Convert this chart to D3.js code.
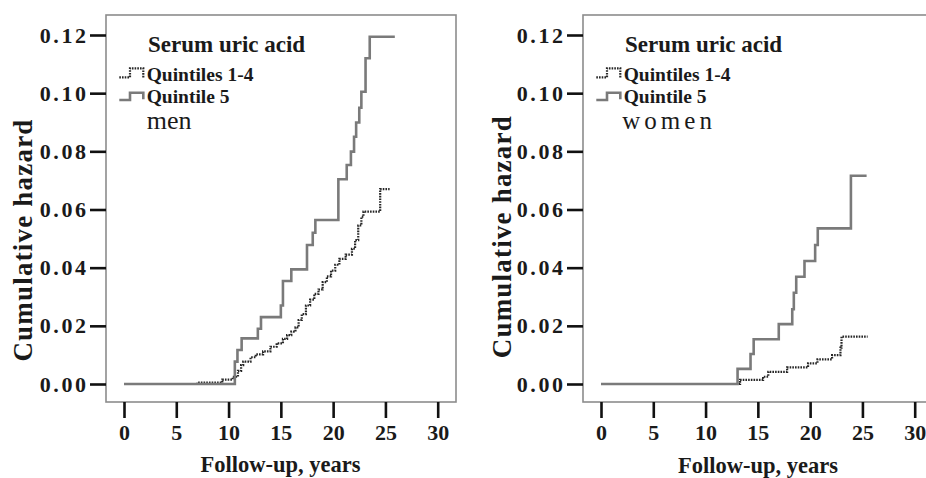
<!DOCTYPE html>
<html>
<head>
<meta charset="utf-8">
<script src="https://cdn.jsdelivr.net/npm/d3@7"></script>
<style>
  body { margin: 0; background: #fff; }
  svg { display: block; }
  text { font-family: "Liberation Serif", "Times New Roman", serif; fill: #1a1a1a; }
</style>
</head>
<body>
<svg id="chart" width="926" height="478"></svg>
<script>
// tick labels
const xTicks = [0, 5, 10, 15, 20, 25, 30];
const yTicks = [0, 0.02, 0.04, 0.06, 0.08, 0.10, 0.12];

const legendTitle = "Serum uric acid";
const seriesNames = ["Quintiles 1-4", "Quintile 5"];
const panelLabels = ["men", "women"];
const xTitle = "Follow-up, years";
const yTitle = "Cumulative hazard";

// cumulative hazard step points [years, hazard]
const menQ14 = [
  [0, 0], [7.0, 0.0005], [9.4, 0.0015], [10.4, 0.0025], [10.9, 0.0045], [11.2, 0.0065],
  [11.4, 0.0077], [12.1, 0.0092], [12.6, 0.0102], [13.3, 0.0112], [14.0, 0.0128],
  [14.6, 0.014], [15.2, 0.0155], [15.6, 0.0168], [16.0, 0.018], [16.4, 0.0195],
  [16.7, 0.022], [17.0, 0.024], [17.4, 0.027], [17.8, 0.029], [18.2, 0.031],
  [18.6, 0.0325], [19.0, 0.035], [19.4, 0.037], [19.8, 0.039], [20.2, 0.041],
  [20.6, 0.043], [21.2, 0.0445], [21.8, 0.0465], [22.1, 0.0495], [22.4, 0.0545],
  [22.7, 0.0575], [22.9, 0.0593], [24.5, 0.067], [25.4, 0.067]
];
const menQ5 = [
  [0, 0], [10.6, 0.0077], [10.85, 0.0117], [11.25, 0.0157], [12.8, 0.019], [13.1, 0.023],
  [15.0, 0.027], [15.2, 0.0354], [16.0, 0.0394], [17.5, 0.0478], [18.05, 0.052],
  [18.3, 0.0564], [20.5, 0.0704], [21.3, 0.0753], [21.7, 0.0799], [22.0, 0.085],
  [22.2, 0.0899], [22.5, 0.095], [22.7, 0.1005], [23.1, 0.112], [23.5, 0.1194], [25.9, 0.1194]
];
const womenQ14 = [
  [0, 0], [13.3, 0.0014], [15.5, 0.0025], [16.0, 0.0042], [17.8, 0.0057], [19.8, 0.0071],
  [20.7, 0.0085], [22.1, 0.0099], [22.9, 0.0125], [23.0, 0.0163], [25.5, 0.0163]
];
const womenQ5 = [
  [0, 0], [13.06, 0.0052], [14.3, 0.0103], [14.6, 0.0154], [17.0, 0.0206], [18.29, 0.0257],
  [18.44, 0.0314], [18.67, 0.0369], [19.46, 0.0423], [20.48, 0.0478], [20.73, 0.0535],
  [23.9, 0.0716], [25.4, 0.0716]
];

const panelData = [[menQ14, menQ5], [womenQ14, womenQ5]];

const svg = d3.select("#chart");
const panelOffsets = [0, 477];
const frame = { left: 106, right: 456, top: 15, bottom: 402 };

const x = d3.scaleLinear().domain([0, 30]).range([124, 437.7]);
const y = d3.scaleLinear().domain([0, 0.12]).range([384, 35]);

const styles = [
  { stroke: "#262626", width: 2.2, dash: "1.6,1.1" },
  { stroke: "#7a7a7a", width: 2.6, dash: null }
];

const line = d3.line()
  .x(d => x(d[0]))
  .y(d => y(d[1]))
  .curve(d3.curveStepAfter);

panelOffsets.forEach((off, p) => {
  const g = svg.append("g").attr("transform", `translate(${off},0)`);

  // frame
  g.append("rect")
    .attr("x", frame.left).attr("y", frame.top)
    .attr("width", frame.right - frame.left).attr("height", frame.bottom - frame.top)
    .attr("fill", "none").attr("stroke", "#8c8c8c").attr("stroke-width", 1.6);

  // y axis
  const yAx = g.append("g")
    .attr("transform", `translate(${frame.left},0)`)
    .call(d3.axisLeft(y).tickValues(yTicks).tickFormat(d3.format(".2f")).tickSize(16).tickSizeOuter(0).tickPadding(4));
  yAx.select(".domain").remove();
  yAx.selectAll(".tick line").attr("stroke", "#111").attr("stroke-width", 2.6);
  yAx.selectAll(".tick text")
    .attr("font-size", 22).attr("font-weight", "bold").attr("font-family", "Liberation Serif, serif")
    .attr("letter-spacing", 2.6).attr("fill", "#1a1a1a").attr("dx", 2.6);

  // x axis (offset below the frame)
  const xAx = g.append("g")
    .attr("transform", `translate(0,${frame.bottom})`)
    .call(d3.axisBottom(x).tickValues(xTicks).tickSize(16).tickSizeOuter(0));
  xAx.select(".domain").remove();
  xAx.selectAll(".tick line").attr("stroke", "#111").attr("stroke-width", 2.6);
  xAx.selectAll(".tick text")
    .attr("y", 38).attr("dy", 0)
    .attr("font-size", 22).attr("font-weight", "bold").attr("font-family", "Liberation Serif, serif")
    .attr("fill", "#1a1a1a");

  // axis titles
  g.append("text")
    .attr("transform", `translate(${31.7 + (p ? 2 : 0)},${p ? 236.7 : 240}) rotate(-90)`)
    .attr("text-anchor", "middle")
    .attr("font-size", 27).attr("font-weight", "bold").attr("letter-spacing", 1.2)
    .text(yTitle);
  g.append("text")
    .attr("x", p ? 281 : 280.5).attr("y", p ? 473 : 471.7)
    .attr("text-anchor", "middle")
    .attr("font-size", 22.5).attr("font-weight", "bold")
    .text(xTitle);

  // curves
  panelData[p].forEach((s, i) => {
    g.append("path")
      .datum(s)
      .attr("d", line)
      .attr("fill", "none")
      .attr("stroke", styles[i].stroke)
      .attr("stroke-width", styles[i].width)
      .attr("stroke-dasharray", styles[i].dash);
  });

  // legend
  g.append("text")
    .attr("x", 148).attr("y", 51.7)
    .attr("font-size", 23).attr("font-weight", "bold")
    .text(legendTitle);
  const symbols = [
    "M119.3,77.3H130V68.3H143.3V78.3",
    "M119.3,100H130V92.7H143.3V99.3"
  ];
  seriesNames.forEach((name, i) => {
    g.append("path")
      .attr("d", symbols[i])
      .attr("fill", "none")
      .attr("stroke", styles[i].stroke)
      .attr("stroke-width", styles[i].width)
      .attr("stroke-dasharray", styles[i].dash);
    g.append("text")
      .attr("x", 146.7).attr("y", i ? 103.3 : 80.7)
      .attr("font-size", 19.5).attr("font-weight", "bold")
      .text(name);
  });
  g.append("text")
    .attr("x", p ? 145.3 : 146.7).attr("y", 129)
    .attr("font-size", p ? 25 : 26)
    .attr("letter-spacing", p ? 4 : 0)
    .text(panelLabels[p]);
});
</script>
</body>
</html>
